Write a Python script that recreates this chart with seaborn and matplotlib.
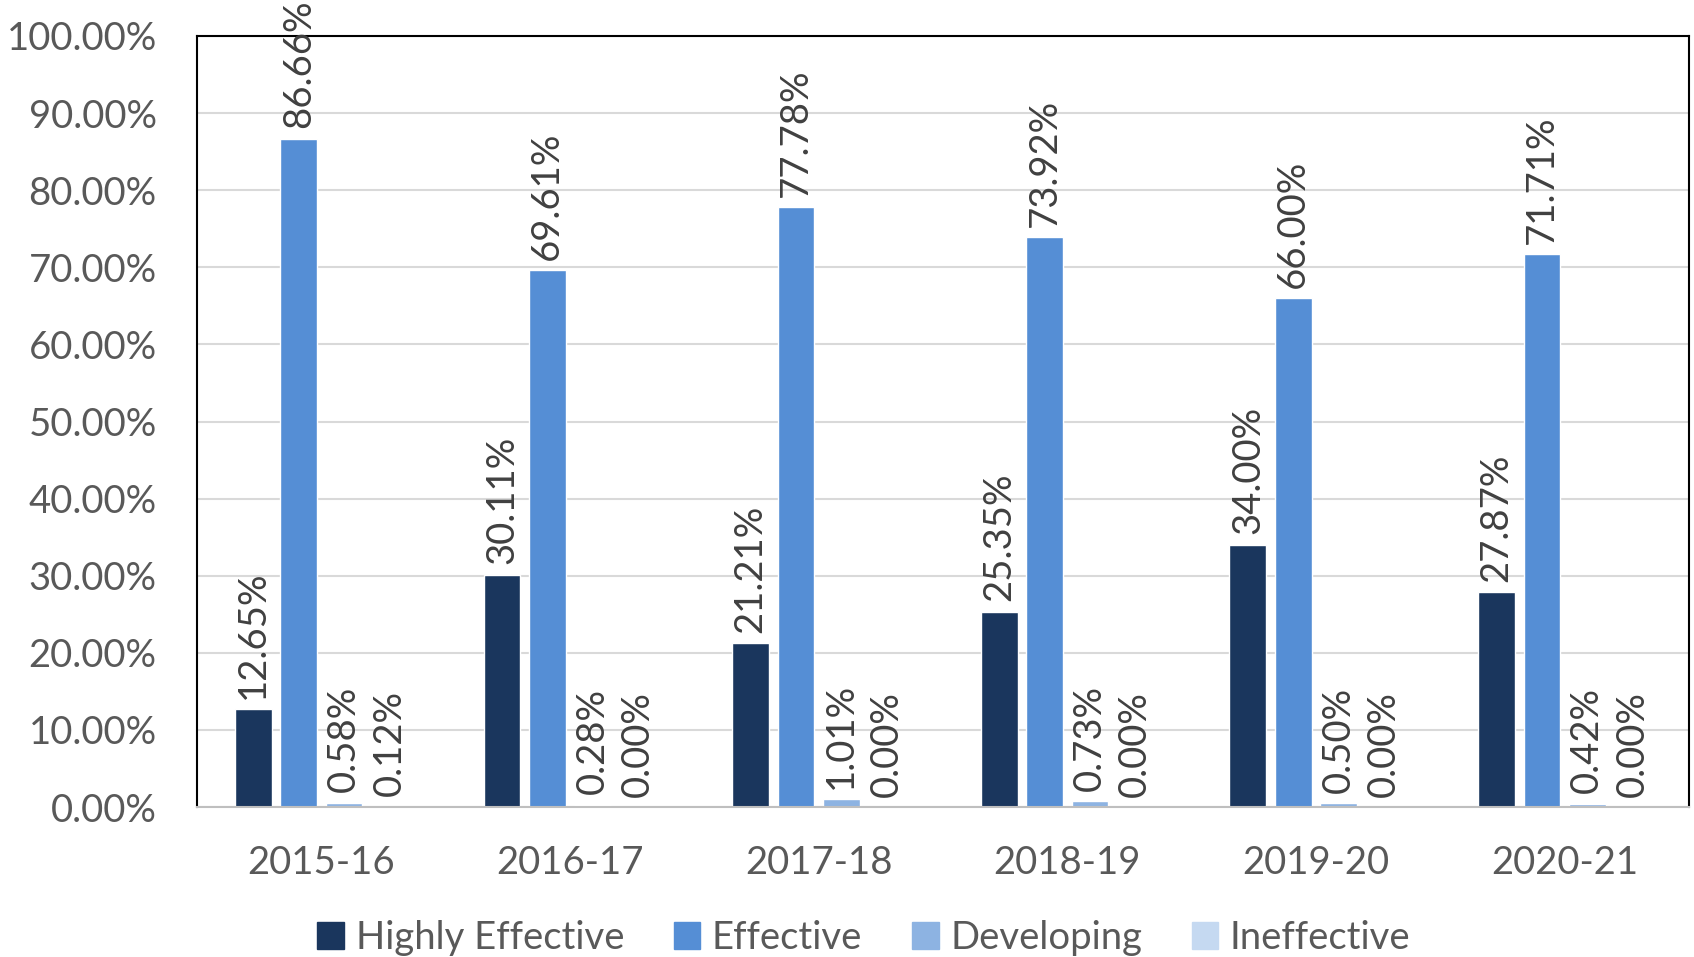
import matplotlib
matplotlib.use('Agg')
from matplotlib import pyplot as plt
import seaborn as sns
import pandas as pd

# data
years = ['2015-16', '2016-17', '2017-18', '2018-19', '2019-20', '2020-21']
ratings = ['Highly Effective', 'Effective', 'Developing', 'Ineffective']
highly_effective = [12.65, 30.11, 21.21, 25.35, 34.00, 27.87]
effective = [86.66, 69.61, 77.78, 73.92, 66.00, 71.71]
developing = [0.58, 0.28, 1.01, 0.73, 0.50, 0.42]
ineffective = [0.12, 0.00, 0.00, 0.00, 0.00, 0.00]
colors = ['#1a365d', '#558ed5', '#8db3e2', '#c5d9f1']

series = [highly_effective, effective, developing, ineffective]
rows = []
for rating, vals in zip(ratings, series):
    for yr, v in zip(years, vals):
        rows.append({'year': yr, 'rating': rating, 'pct': v})
df = pd.DataFrame(rows)

sns.set_style('white')
plt.rcParams['font.family'] = ['Lato', 'DejaVu Sans']

fig = plt.figure(figsize=(16.94, 9.57), dpi=100)
ax = fig.add_axes([0.1163, 0.1567, 0.997 - 0.1163, 0.9624 - 0.1567])

sns.barplot(data=df, x='year', y='pct', hue='rating', hue_order=ratings,
            palette=colors, width=0.73, gap=0.19, saturation=1,
            legend=False, ax=ax)

# labels on top of each bar
for cont, vals in zip(ax.containers, series):
    ax.bar_label(cont, labels=[f"{v:.2f}%" for v in vals], rotation=90,
                 padding=7.5, fontsize=27.5, color='#404040', clip_on=False)

ax.set_ylim(0, 100)
ax.set_xlim(-0.5, 5.5)
ax.set_yticks(range(0, 101, 10))
ax.set_yticklabels([f"{t:.2f}%" for t in range(0, 101, 10)])
ax.yaxis.grid(True, color='#d9d9d9', linewidth=1.5)
ax.set_axisbelow(True)
ax.tick_params(axis='y', labelsize=27.5, labelcolor='#595959', length=0, pad=29)
ax.tick_params(axis='x', labelsize=27.5, labelcolor='#595959', length=0, pad=27)
ax.set_xlabel('')
ax.set_ylabel('')

for side in ['left', 'top', 'right']:
    ax.spines[side].set_color('black')
    ax.spines[side].set_linewidth(1.5)
ax.spines['bottom'].set_color('#bfbfbf')
ax.spines['bottom'].set_linewidth(1.5)

# legend at the bottom
handles = [plt.Rectangle((0, 0), 1, 1, color=c) for c in colors]
fig.legend(handles, ratings, loc='lower center', bbox_to_anchor=(0.51, -0.035),
           ncol=4, frameon=False, fontsize=27.5, labelcolor='#595959',
           handlelength=0.7, handleheight=0.7, handletextpad=0.3,
           columnspacing=1.3)

fig.savefig('out.png', dpi=100)
